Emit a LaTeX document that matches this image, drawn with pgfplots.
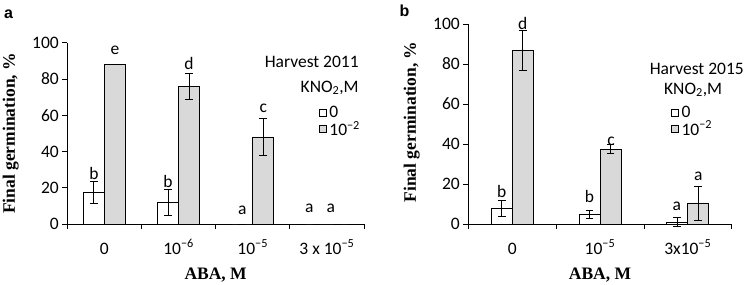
\documentclass[border=0pt]{standalone}
\usepackage{fontspec}
\setmainfont{Carlito}
\newfontfamily\timesfont{Liberation Serif}
\newfontfamily\arialfont{Liberation Sans}
\usepackage{pgfplots}
\usepackage{pgfplotstable}
\pgfplotsset{compat=1.18}

\pgfplotstableread{
x w we g ge
0 17.5 6 88 0
1 12 7 75.8 7
2 0 0 48 10.4
3 0 0 0 0
}\dataA
\pgfplotstableread{
x w we g ge
0 7.8 3.8 86.8 10
1 5 2 37.4 2.3
2 1 2.2 10.5 8.5
}\dataB

\definecolor{barg}{RGB}{217,217,217}
\newcommand{\tf}{\fontsize{17.5bp}{20bp}\selectfont}
\newcommand{\lf}{\timesfont\bfseries\fontsize{17.5bp}{20bp}\selectfont}

\pgfplotsset{
  common/.style={
    scale only axis,
    axis lines*=left,
    clip=false,
    ymin=0, ymax=100, ytick={0,20,...,100},
    ybar=0pt, bar width=21bp,
    tick align=outside, major tick length=5bp,
    every tick/.style={line width=0.8bp, black},
    axis line style={line width=0.8bp, black},
    ticklabel style={font=\tf},
    /pgf/number format/assume math mode=true,
    xticklabels={},
    extra x tick style={major tick length=0pt, xticklabel style={anchor=base, yshift=-30bp, inner sep=0pt}},
    xlabel={ABA, M}, ylabel={Final germination, \%},
    label style={font=\lf},
    legend style={draw=none, fill=none, font=\tf, inner sep=0pt, row sep=2bp,
      nodes={inner xsep=0bp, inner ysep=0bp}},
    legend cell align=left,
    legend image code/.code={\draw[line width=0.8bp, ##1] (0bp,-3.3bp) rectangle (6.7bp,3.4bp); \path (9.5bp,0bp);},
    error bars/y dir=both, error bars/y explicit,
    error bars/error bar style={line width=0.8bp, black},
    error bars/error mark options={rotate=90, mark size=3.9bp, line width=0.8bp, black},
  }
}

\begin{document}
\begin{tikzpicture}
\path[use as bounding box] (0,0) rectangle (749bp,285bp);
\node[font=\arialfont\bfseries\fontsize{16bp}{18bp}\selectfont, anchor=center] at (8.5bp,271bp) {a};
\node[font=\arialfont\bfseries\fontsize{16bp}{18bp}\selectfont, anchor=center] at (404.5bp,274bp) {b};

\begin{axis}[common,
  at={(67.3bp,61bp)}, anchor=south west,
  width=296.7bp, height=181.3bp,
  xmin=-0.5, xmax=3.5,
  xtick={-0.5,0.5,1.5,2.5,3.5},
  extra x ticks={0,1,2,3},
  extra x tick labels={0, 10\textsuperscript{−6}, 10\textsuperscript{−5}, 3 x 10\textsuperscript{−5}},
  xlabel style={at={(axis description cs:0.5,-0.28)}, anchor=center},
  ylabel style={at={(axis description cs:-0.191,0.5)}, anchor=center},
  legend style={at={(axis description cs:0.848,0.65)}, anchor=north west},
]
\addplot[fill=white, draw=black, line width=0.8bp] table[x=x, y=w, y error=we] {\dataA};
\addplot[fill=barg, draw=black, line width=0.8bp] table[x=x, y=g, y error=ge] {\dataA};
\legend{0, 10\textsuperscript{−2}}
\node[font=\tf] at (axis cs:0,28) [xshift=-10.5bp] {b};
\node[font=\tf] at (axis cs:0,96) [xshift=10.5bp] {e};
\node[font=\tf] at (axis cs:1,23.3) [xshift=-10.5bp] {b};
\node[font=\tf] at (axis cs:1,88.6) [xshift=10.5bp] {d};
\node[font=\tf] at (axis cs:2,7.7) [xshift=-10.5bp] {a};
\node[font=\tf] at (axis cs:2,63.8) [xshift=10.5bp] {c};
\node[font=\tf] at (axis cs:3,8.7) [xshift=-17.7bp] {a};
\node[font=\tf] at (axis cs:3,8.7) [xshift=4bp] {a};
\node[font=\tf, anchor=east] at (axis description cs:0.994,0.895) {Harvest 2011};
\node[font=\tf, anchor=east] at (axis description cs:0.994,0.75) {KNO\textsubscript{2},M};
\end{axis}

\begin{axis}[common,
  at={(468.3bp,61bp)}, anchor=south west,
  width=263.4bp, height=200bp,
  xmin=-0.5, xmax=2.5,
  xtick={-0.5,0.5,1.5,2.5},
  extra x ticks={0,1,2},
  extra x tick labels={0, 10\textsuperscript{−5}, 3x10\textsuperscript{−5}},
  xlabel style={at={(axis description cs:0.5,-0.2535)}, anchor=center},
  ylabel style={at={(axis description cs:-0.215,0.51)}, anchor=center},
  legend style={at={(axis description cs:0.77,0.59)}, anchor=north west},
]
\addplot[fill=white, draw=black, line width=0.8bp] table[x=x, y=w, y error=we] {\dataB};
\addplot[fill=barg, draw=black, line width=0.8bp] table[x=x, y=g, y error=ge] {\dataB};
\legend{0, 10\textsuperscript{−2}}
\node[font=\tf] at (axis cs:0,16.2) [xshift=-10.5bp] {b};
\node[font=\tf] at (axis cs:0,100.5) [xshift=10.5bp] {d};
\node[font=\tf] at (axis cs:1,13.7) [xshift=-10.5bp] {b};
\node[font=\tf] at (axis cs:1,41.5) [xshift=11bp] {c};
\node[font=\tf] at (axis cs:2,8.7) [xshift=-11bp] {a};
\node[font=\tf] at (axis cs:2,23.7) [xshift=10.5bp] {a};
\node[font=\tf, anchor=east] at (axis description cs:1.059,0.778) {Harvest 2015};
\node[font=\tf, anchor=west] at (axis description cs:0.73,0.67) {KNO\textsubscript{2},M};
\end{axis}
\end{tikzpicture}
\end{document}
